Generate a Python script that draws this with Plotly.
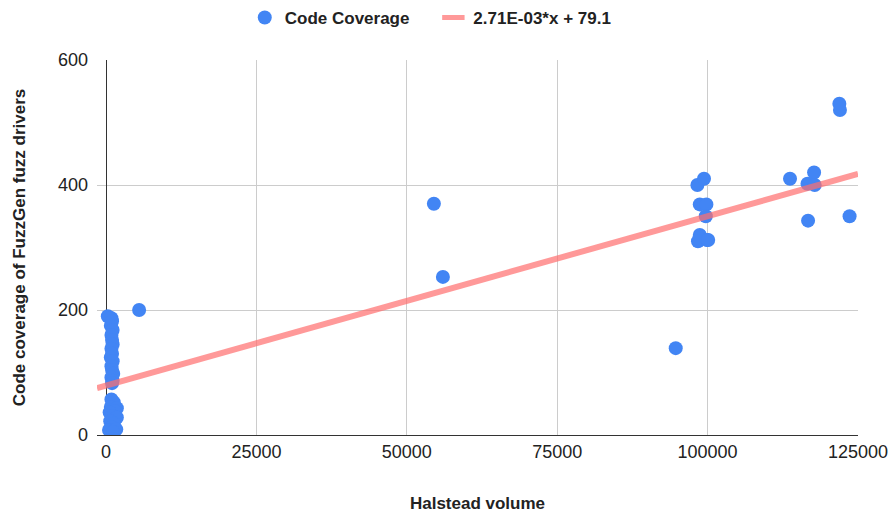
import plotly.graph_objects as go

# Halstead volume (x) and code coverage (y)
halstead = [300, 900, 1000, 800, 1100, 900, 1000, 1100, 900, 1000, 800, 1100, 900, 1000, 1200, 900, 1100, 1000,
            900, 1300, 800, 1800, 1500, 600, 1100, 1800, 700, 1300, 1000, 500, 1700, 1200,
            5500, 54500, 56000, 94700,
            98300, 99400, 98700, 99800, 99700, 98700, 98400, 99900, 100100,
            113700, 117700, 116600, 117800, 116700, 123600, 121900, 122000]
coverage = [190, 187, 182, 175, 168, 160, 152, 145, 138, 130, 124, 118, 110, 104, 98, 92, 87, 83,
            57, 52, 45, 43, 38, 36, 30, 28, 22, 18, 12, 8, 9, 5,
            200, 370, 253, 139,
            400, 410, 369, 369, 350, 320, 310, 312, 312,
            410, 420, 402, 400, 343, 350, 530, 520]

slope = 2.71e-03
intercept = 79.1
trend_label = "2.71E-03*x + 79.1"
trend_x = [-1500, 125000]
trend_y = [slope * v + intercept for v in trend_x]

x_ticks = [0, 25000, 50000, 75000, 100000, 125000]
y_ticks = [0, 200, 400, 600]

font = "Liberation Sans, Arial, sans-serif"
blue = "#4285f4"
pink = "rgba(255,110,110,0.7)"
txt = "#222222"

fig = go.Figure()
fig.add_trace(go.Scatter(
    x=halstead, y=coverage, mode="markers", name="Code Coverage\u00a0\u00a0\u00a0\u00a0",
    marker=dict(color=blue, size=14, line=dict(width=0)),
))
fig.add_trace(go.Scatter(
    x=trend_x, y=trend_y, mode="lines", name=trend_label, showlegend=False,
    line=dict(color=pink, width=6),
))
# legend-only entry with a short thick swatch
fig.add_trace(go.Scatter(
    x=[None], y=[None], mode="markers", name=trend_label,
    marker=dict(symbol="line-ew", size=16, color=pink, line=dict(width=6, color=pink)),
))

fig.update_layout(
    width=890, height=513,
    margin=dict(l=97, r=32, t=60, b=78, autoexpand=False),
    paper_bgcolor="white", plot_bgcolor="white",
    font=dict(family=font, size=18, color=txt),
    showlegend=True,
    legend=dict(orientation="h", x=0.484, xanchor="center", xref="container",
                y=0.965, yanchor="middle", yref="container",
                font=dict(family=font, size=17, color=txt, weight="bold")),
    xaxis=dict(range=[-1500, 125000], tickvals=x_ticks, ticktext=[str(v) for v in x_ticks],
               showgrid=True, gridcolor="#cccccc", gridwidth=1,
               zeroline=True, zerolinecolor="#333333", zerolinewidth=1,
               showline=True, linecolor="#333333", linewidth=1, automargin=True,
               ticks="", tickfont=dict(size=18, color=txt),
               title=dict(text="Halstead volume", font=dict(size=17, weight="bold", color=txt), standoff=36)),
    yaxis=dict(range=[0, 600], tickvals=y_ticks,
               showgrid=True, gridcolor="#cccccc", gridwidth=1,
               zeroline=False, showline=False, automargin=True,
               ticks="", tickfont=dict(size=18, color=txt), ticklabelstandoff=8,
               title=dict(text="Code coverage of FuzzGen fuzz drivers", font=dict(size=17, weight="bold", color=txt), standoff=28)),
)
fig.write_html("out.html", config={"displayModeBar": False},
               post_script="document.body.style.margin='0';document.body.style.overflow='hidden';")
